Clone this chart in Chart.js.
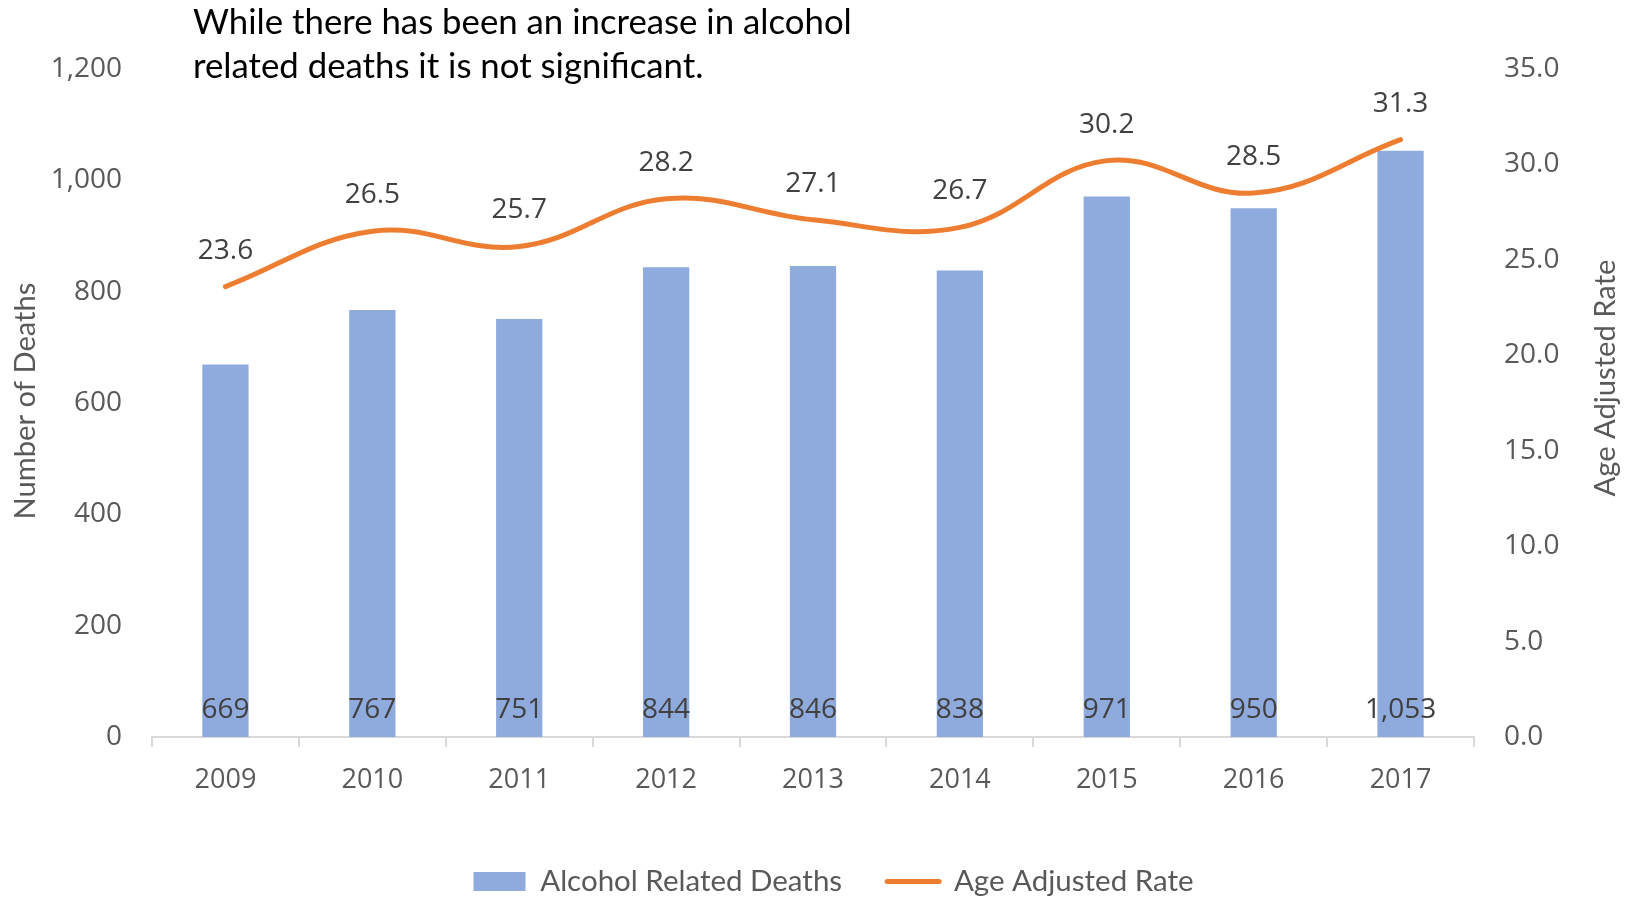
<!DOCTYPE html>
<html>
<head>
<meta charset="utf-8">
<script src="https://cdn.jsdelivr.net/npm/chart.js@4.4.0/dist/chart.umd.min.js"></script>
<style>
html,body{margin:0;padding:0;background:#fff;}
#wrap{width:1630px;height:897px;position:relative;}
</style>
</head>
<body>
<div id="wrap"><canvas id="c" width="1630" height="897"></canvas></div>
<script>
const years = ['2009','2010','2011','2012','2013','2014','2015','2016','2017'];
const deaths = [669, 767, 751, 844, 846, 838, 971, 950, 1053];
const rates = [23.6, 26.5, 25.7, 28.2, 27.1, 26.7, 30.2, 28.5, 31.3];
const titleLines = ['While there has been an increase in alcohol', 'related deaths it is not significant.'];
const leftTitle = 'Number of Deaths';
const rightTitle = 'Age Adjusted Rate';
const seriesNames = ['Alcohol Related Deaths', 'Age Adjusted Rate'];

const BAR = '#8FAADC', LINE = '#ED7D31', TICK = '#595959', LABEL = '#404040';
const NUMFONT = '"Open Sans", sans-serif';
const TXTFONT = 'Lato, "Open Sans", sans-serif';
const LEG_FS = 29.5;

function fitFont(ctx, text, width, family) {
  ctx.font = '100px ' + family;
  const w = ctx.measureText(text).width;
  return 100 * width / w;
}

const extras = {
  id: 'extras',
  afterDatasetsDraw(chart) {
    const ctx = chart.ctx;
    ctx.save();
    const bm = chart.getDatasetMeta(0);
    ctx.font = '28px ' + NUMFONT;
    ctx.fillStyle = LABEL;
    ctx.textAlign = 'center';
    ctx.textBaseline = 'middle';
    bm.data.forEach((el, i) => {
      ctx.fillText(deaths[i].toLocaleString('en-US'), el.x, el.base - 27);
    });
    const lm = chart.getDatasetMeta(1);
    lm.data.forEach((el, i) => {
      ctx.fillText(rates[i].toFixed(1), el.x, el.y - 36);
    });
    const ts = fitFont(ctx, titleLines[0], 659, TXTFONT);
    ctx.font = ts + 'px ' + TXTFONT;
    ctx.fillStyle = '#000';
    ctx.textAlign = 'left';
    ctx.fillText(titleLines[0], 193, 23);
    ctx.fillText(titleLines[1], 193, 66.5);
    const as = fitFont(ctx, leftTitle, 237, TXTFONT);
    ctx.font = as + 'px ' + TXTFONT;
    ctx.fillStyle = TICK;
    ctx.textAlign = 'center';
    ctx.save();
    ctx.translate(26, 401);
    ctx.rotate(-Math.PI / 2);
    ctx.fillText(leftTitle, 0, 0);
    ctx.restore();
    const rs = fitFont(ctx, rightTitle, 237, TXTFONT);
    ctx.font = rs + 'px ' + TXTFONT;
    ctx.save();
    ctx.translate(1606, 378);
    ctx.rotate(-Math.PI / 2);
    ctx.fillText(rightTitle, 0, 0);
    ctx.restore();
    ctx.restore();
  }
};

const LEG_PAD = 45;
const PAD_BOTTOM = 887 - LEG_FS / 2 - 881.5;
const LEG_H = LEG_FS + LEG_PAD + 10;
const X_H = 897 - PAD_BOTTOM - LEG_H - 737;

new Chart(document.getElementById('c'), {
  data: {
    labels: years,
    datasets: [
      {
        type: 'bar',
        label: seriesNames[0],
        data: deaths,
        backgroundColor: BAR,
        borderWidth: 0,
        yAxisID: 'y',
        barPercentage: 0.315,
        categoryPercentage: 1,
        order: 2
      },
      {
        type: 'line',
        label: seriesNames[1],
        data: rates,
        borderColor: LINE,
        backgroundColor: LINE,
        borderWidth: 5,
        borderCapStyle: 'round',
        tension: 0.4,
        pointRadius: 0,
        pointHoverRadius: 0,
        yAxisID: 'y1',
        order: 1
      }
    ]
  },
  options: {
    responsive: false,
    animation: false,
    layout: { padding: { top: 69, left: 37, right: 0, bottom: PAD_BOTTOM } },
    scales: {
      x: {
        offset: true,
        grid: { offset: true, drawOnChartArea: false, drawTicks: true, tickLength: 10, color: '#D9D9D9', lineWidth: 2 },
        border: { display: true, color: '#D9D9D9', width: 2 },
        ticks: { color: TICK, font: { size: 27, family: NUMFONT }, padding: 17, maxRotation: 0 },
        afterFit(s) { s.height = X_H; }
      },
      y: {
        position: 'left',
        min: 0, max: 1200,
        grid: { display: false, drawTicks: false },
        border: { display: false },
        ticks: { stepSize: 200, color: TICK, font: { size: 28, family: NUMFONT }, padding: 30,
          callback: v => v.toLocaleString('en-US') },
        afterFit(s) { s.width = 152 - 37; }
      },
      y1: {
        position: 'right',
        min: 0, max: 35,
        grid: { display: false, drawTicks: false },
        border: { display: false },
        ticks: { stepSize: 5, color: TICK, font: { size: 28, family: NUMFONT }, padding: 30,
          callback: v => Number(v).toFixed(1) },
        afterFit(s) { s.width = 156; }
      }
    },
    plugins: {
      title: { display: false },
      tooltip: { enabled: false },
      legend: {
        display: true,
        position: 'bottom',
        labels: {
          usePointStyle: true,
          pointStyleWidth: 52,
          boxHeight: 19,
          padding: LEG_PAD,
          color: TICK,
          font: { size: LEG_FS, family: TXTFONT },
          generateLabels(chart) {
            return [
              { text: seriesNames[0], fillStyle: BAR, strokeStyle: BAR, lineWidth: 0, pointStyle: 'rect', datasetIndex: 0, fontColor: TICK },
              { text: seriesNames[1], fillStyle: LINE, strokeStyle: LINE, lineWidth: 5, lineCap: 'round', pointStyle: 'line', datasetIndex: 1, fontColor: TICK }
            ];
          }
        }
      }
    }
  },
  plugins: [extras]
});
</script>
</body>
</html>
